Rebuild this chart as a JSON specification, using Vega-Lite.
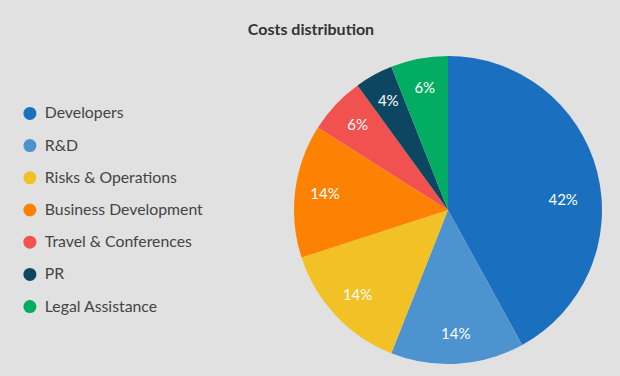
{
  "$schema": "https://vega.github.io/schema/vega-lite/v6.json",
  "autosize": "none",
  "width": 308,
  "height": 308,
  "padding": {"left": 294, "top": 56, "right": 18, "bottom": 12},
  "background": "#e1e1e1",
  "config": {"view": {"stroke": null}, "font": "Lato"},
  "title": {
    "text": "Costs distribution",
    "fontSize": 16,
    "fontWeight": "bold",
    "color": "#333333",
    "anchor": "middle",
    "dx": -137,
    "offset": 18
  },
  "data": {
    "values": [
      {"rank": 1, "category": "Developers", "share": 0.42},
      {"rank": 2, "category": "R&D", "share": 0.14},
      {"rank": 3, "category": "Risks & Operations", "share": 0.14},
      {"rank": 4, "category": "Business Development", "share": 0.14},
      {"rank": 5, "category": "Travel & Conferences", "share": 0.06},
      {"rank": 6, "category": "PR", "share": 0.04},
      {"rank": 7, "category": "Legal Assistance", "share": 0.06}
    ]
  },
  "encoding": {
    "theta": {"field": "share", "type": "quantitative", "stack": true},
    "order": {"field": "rank", "type": "quantitative", "sort": "ascending"},
    "color": {
      "field": "category",
      "type": "nominal",
      "sort": ["Developers", "R&D", "Risks & Operations", "Business Development", "Travel & Conferences", "PR", "Legal Assistance"],
      "scale": {
        "domain": ["Developers", "R&D", "Risks & Operations", "Business Development", "Travel & Conferences", "PR", "Legal Assistance"],
        "range": ["#1a6fbf", "#4c93cf", "#f1c125", "#fd8204", "#f1514f", "#0d4661", "#02ad63"]
      },
      "legend": {
        "orient": "none",
        "legendX": -272,
        "legendY": 49.5,
        "title": null,
        "symbolType": "circle",
        "symbolSize": 169,
        "symbolStrokeWidth": 0,
        "symbolOpacity": 1,
        "labelFontSize": 15.8,
        "labelColor": "#444444",
        "labelOffset": 7,
        "rowPadding": 15.2,
        "padding": 0,
        "labelLimit": 300
      }
    }
  },
  "layer": [
    {"mark": {"type": "arc", "outerRadius": 154, "stroke": null}},
    {
      "mark": {"type": "text", "radius": 124, "fontSize": 15},
      "encoding": {
        "text": {"field": "share", "type": "quantitative", "format": ".0%"},
        "color": {"value": "#ffffff"},
        "opacity": {"condition": {"test": "datum.category === 'Developers'", "value": 0}, "value": 1}
      }
    },
    {
      "mark": {"type": "text", "radius": 122, "fontSize": 15, "dy": 20, "dx": -3},
      "encoding": {
        "text": {"field": "share", "type": "quantitative", "format": ".0%"},
        "color": {"value": "#ffffff"},
        "opacity": {"condition": {"test": "datum.category === 'Developers'", "value": 1}, "value": 0}
      }
    }
  ]
}
